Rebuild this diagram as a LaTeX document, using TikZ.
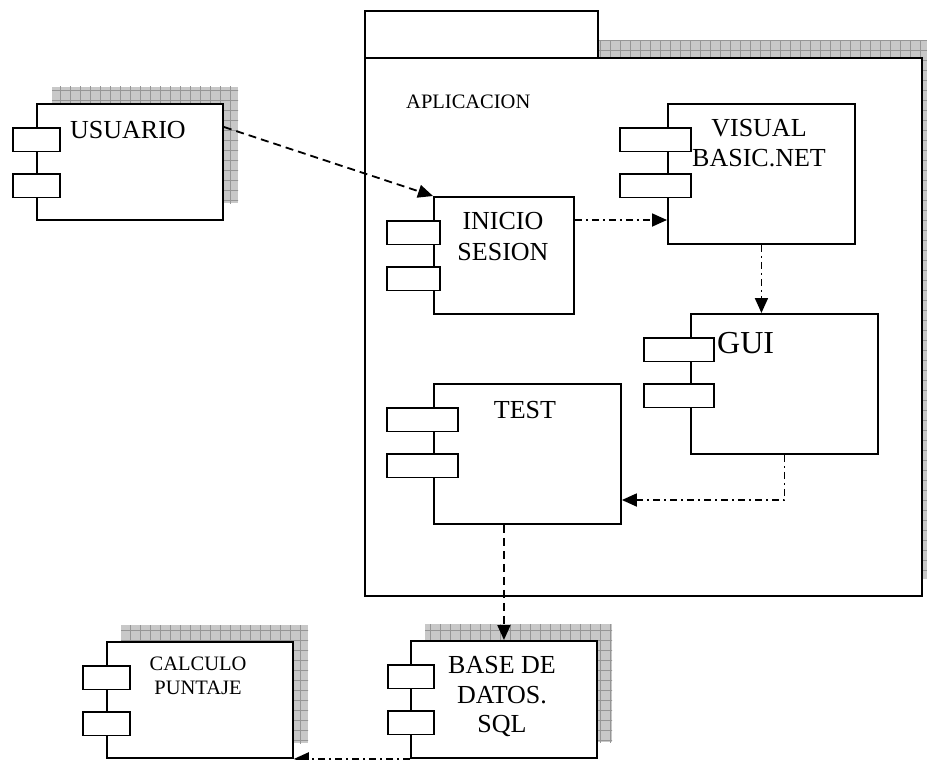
\documentclass[tikz,border=0pt]{standalone}
\usepackage{fontspec}
\setmainfont{Liberation Serif}
\usetikzlibrary{arrows.meta,calc}

\definecolor{shadefill}{RGB}{200,200,200}
\definecolor{shadegrid}{RGB}{150,150,150}

\tikzset{
  outline/.style={draw=black, line width=1.9pt, fill=white},
  body/.style={outline, inner sep=0pt, anchor=north west},
  port/.style={outline, inner sep=0pt, anchor=north west},
  lbl/.style={inner sep=0pt, text=black},
  conn/.style={line width=1.8pt, -{Triangle[length=15pt,width=13pt]}},
  dep/.style={conn, dash pattern=on 8pt off 5pt},
  flow/.style={conn, dash pattern=on 7pt off 4pt on 2pt off 4pt},
}

% hatched drop shadow: x1 y1 x2 y2
\newcommand\dropshade[4]{%
  \fill[shadefill] (#1,#2) rectangle (#3,#4);
  \begin{scope}
    \clip (#1,#2) rectangle (#3,#4);
    \draw[shadegrid, line width=0.6pt, step=10pt] (#1-10,#2-10) grid (#3+10,#4+10);
  \end{scope}}

% component body plus its two ports: name, x1, y1, x2, y2, port x1, port x2
\newcommand\component[7]{%
  \node[body, minimum width={(#4-#2)*1pt}, minimum height={(#5-#3)*1pt}] (#1) at (#2,#3) {};
  \node[port, minimum width={(#7-#6)*1pt}, minimum height=23.5pt] (#1-p1) at (#6,#3+24) {};
  \node[port, minimum width={(#7-#6)*1pt}, minimum height=23.5pt] (#1-p2) at (#6,#3+70) {};}

\begin{document}
\begin{tikzpicture}[x=1pt, y=-1pt]
  \useasboundingbox (0,0) rectangle (927,760);
  \begin{scope}
    \clip (0,0) rectangle (927,760);

    % package APLICACION
    \dropshade{380}{41}{937}{579}
    \node[body, minimum width=557pt, minimum height=538pt] (pkg) at (364,57) {};
    \node[body, minimum width=233pt, minimum height=47pt] (pkgtab) at (364,10) {};
    \node[lbl, anchor=base west, font=\fontsize{20.5}{24}\selectfont] (pkglbl) at (406,109) {APLICACION};

    % USUARIO
    \dropshade{52}{87}{238}{203}
    \component{usr}{36}{103}{222}{219}{12}{59}
    \node[lbl, anchor=base, font=\fontsize{26}{30}\selectfont] (usrlbl) at (128,138) {USUARIO};

    % INICIO SESION
    \component{ini}{433}{196}{573}{313}{386}{439}
    \node[lbl, anchor=north, align=center, font=\fontsize{26}{31}\selectfont] (inilbl) at (503,212.5) {INICIO\\SESION};

    % VISUAL BASIC.NET
    \component{vb}{667}{103}{854}{243}{619}{690}
    \node[lbl, anchor=north, align=center, font=\fontsize{26}{30}\selectfont] (vblbl) at (759,119.5) {VISUAL\\BASIC.NET};

    % GUI
    \component{gui}{690}{313}{877}{453}{643}{713}
    \node[lbl, anchor=base west, font=\fontsize{32}{36}\selectfont] (guilbl) at (717,353) {GUI};

    % TEST
    \component{test}{433}{383}{620}{523}{386}{457}
    \node[lbl, anchor=base, font=\fontsize{26}{30}\selectfont] (testlbl) at (525,418) {TEST};

    % CALCULO PUNTAJE
    \dropshade{121}{625}{308}{743}
    \component{calc}{106}{641}{292}{757}{82}{129}
    \node[lbl, anchor=north, align=center, font=\fontsize{20.5}{24}\selectfont] (calclbl) at (198,656.5) {CALCULO\\PUNTAJE};

    % BASE DE DATOS. SQL
    \dropshade{425}{624}{612}{742}
    \component{base}{410}{640}{596}{757}{387}{433}
    \node[lbl, anchor=north, align=center, font=\fontsize{26}{29.5}\selectfont] (baselbl) at (502,656.5) {BASE DE\\DATOS.\\SQL};

    % connectors
    \draw[dep] ([yshift=-24pt]usr.north east) -- (ini.north west);
    \draw[flow] ([yshift=-24pt]ini.north east) -- ([yshift=-24pt]ini.north east -| vb.west);
    \draw[flow] (vb.south) -- (vb.south |- gui.north);
    \draw[flow] (gui.south) |- ([yshift=-117pt]test.north east);
    \draw[dep] (base.north |- test.south) -- (base.north);
    \draw[flow] (base.south west) -- (calc.south east);
  \end{scope}
\end{tikzpicture}
\end{document}
